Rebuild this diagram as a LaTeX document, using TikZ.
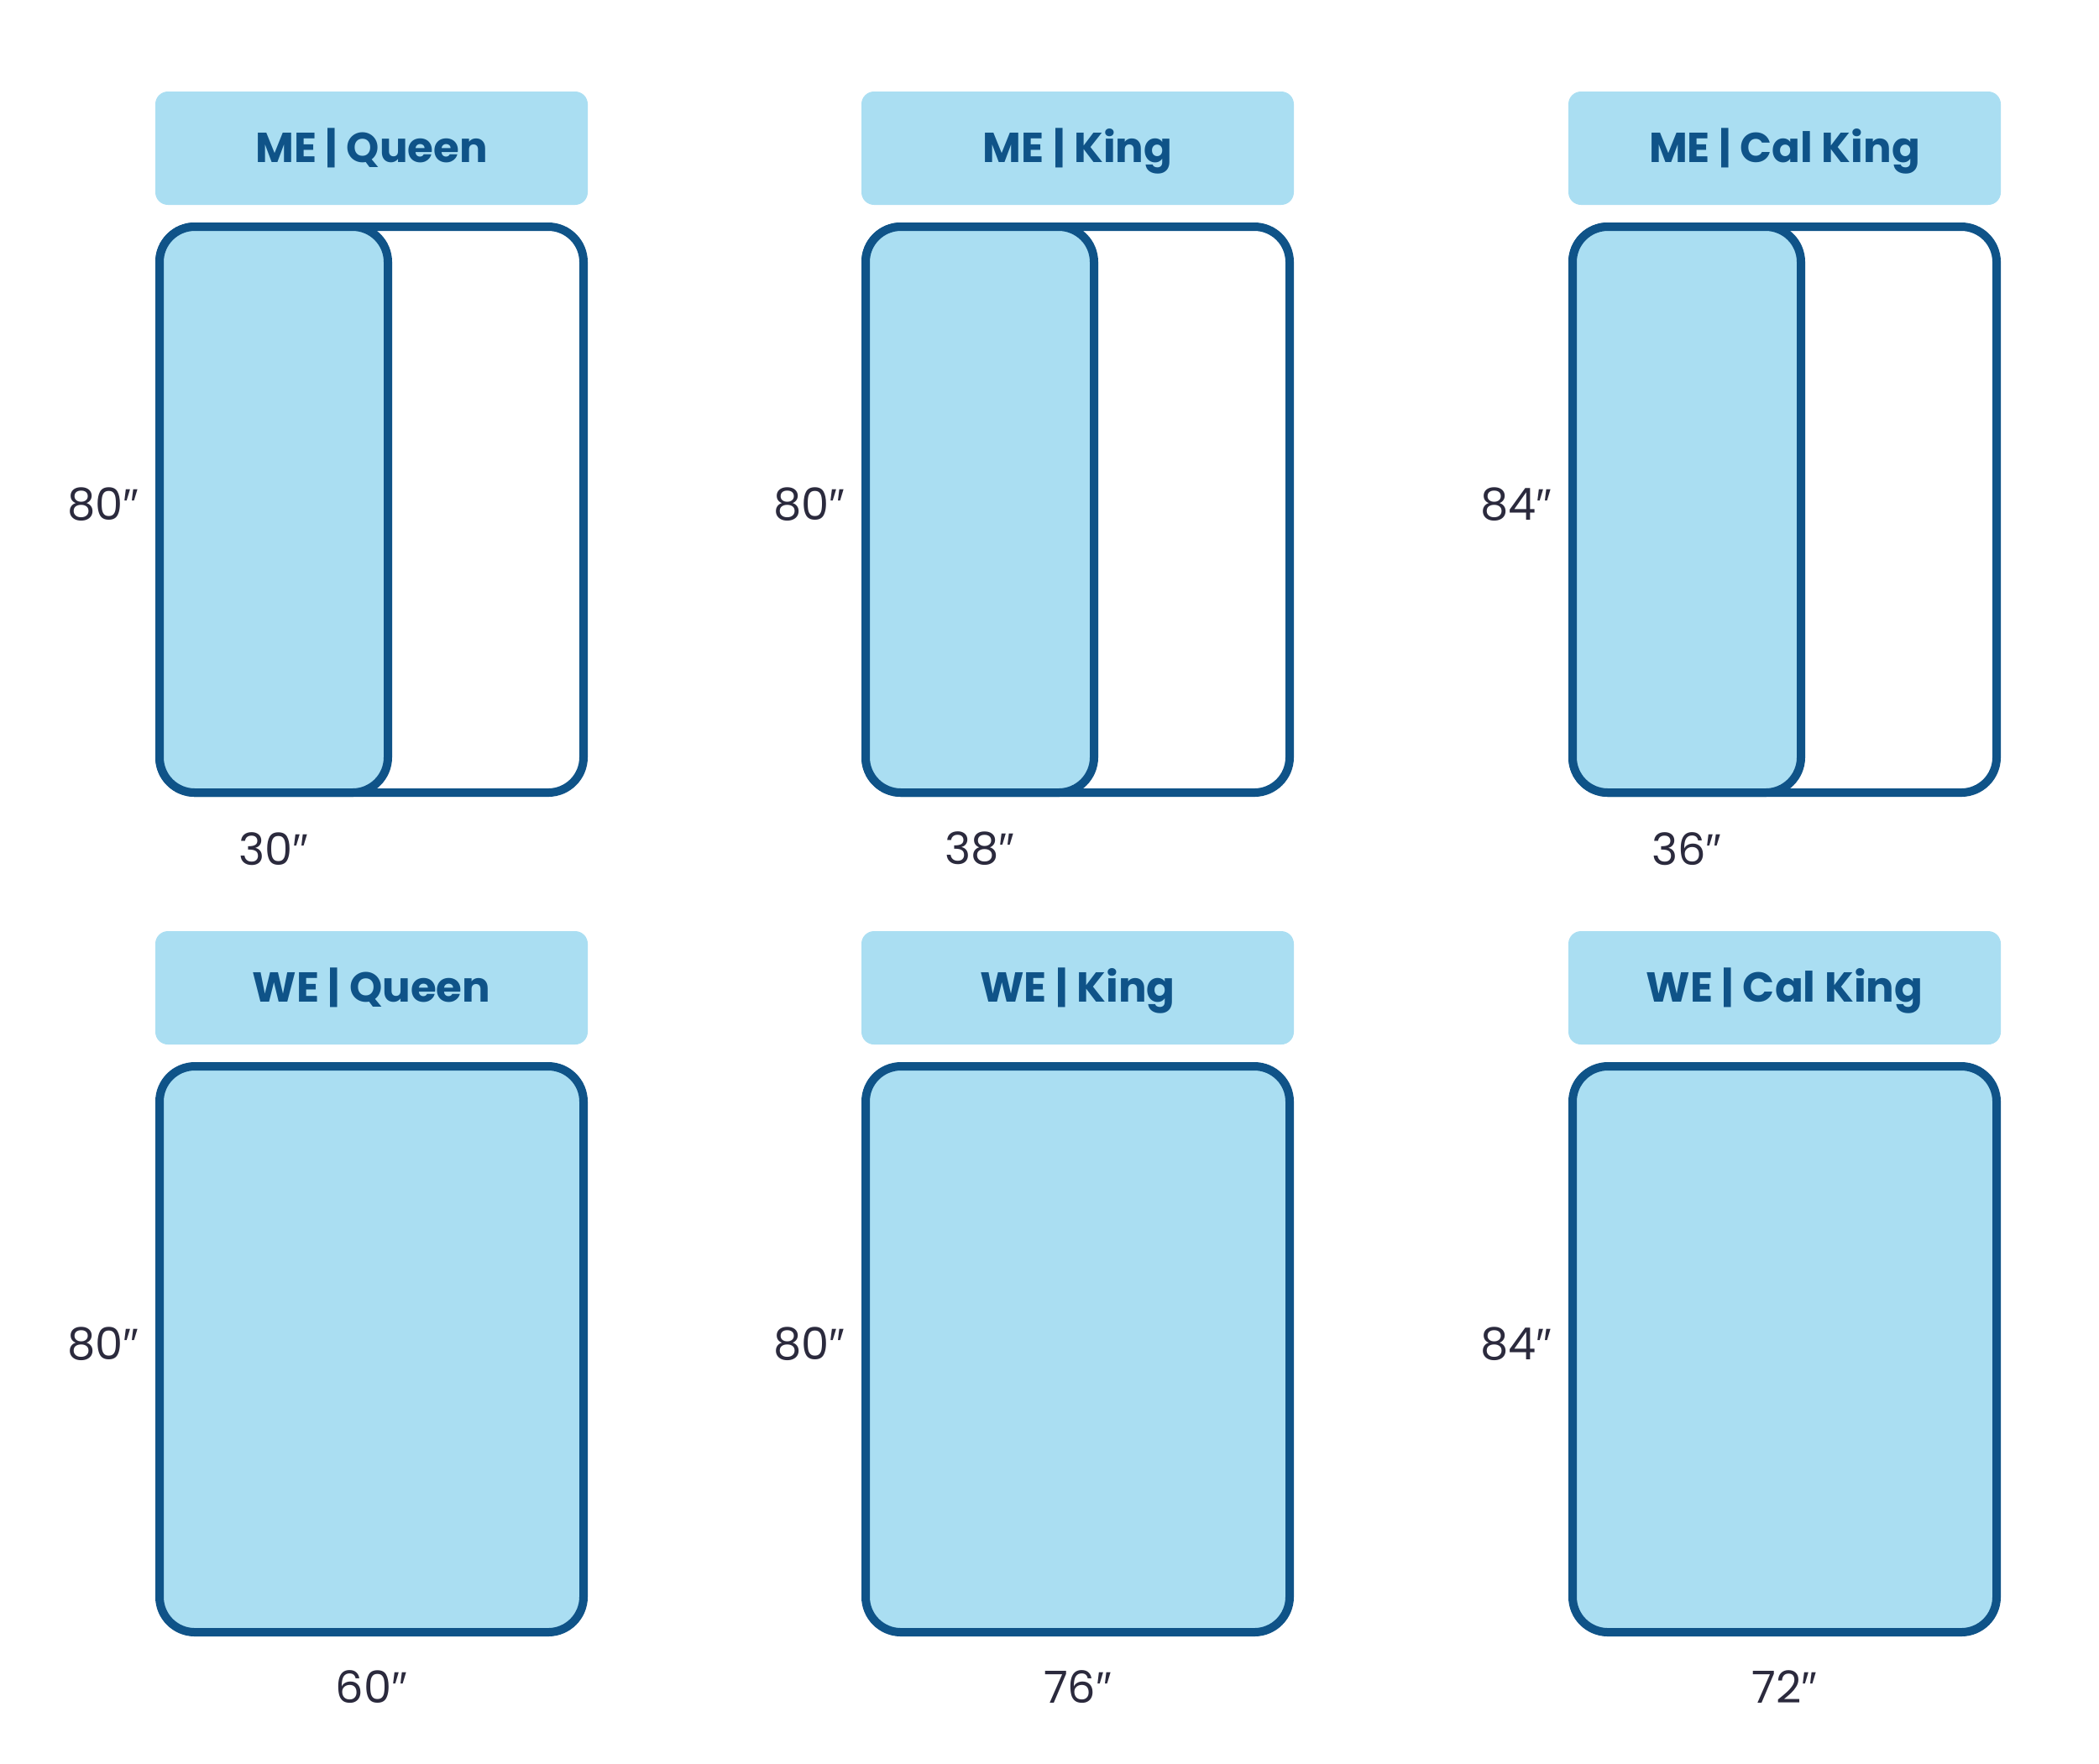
\documentclass[tikz,border=0pt]{standalone}
\usepackage{fontspec}
\setmainfont{Poppins}
\newfontfamily\primefont{Liberation Sans}
\usepackage{tikz}
\usetikzlibrary{positioning}
\definecolor{bedblue}{HTML}{AADEF2}
\definecolor{bededge}{HTML}{0F5388}
\definecolor{sizegray}{HTML}{2B2A3D}
\tikzset{bedline/.style={draw=bededge, line width=0.1cm, rounded corners=0.42cm},
	headbox/.style={fill=bedblue, rounded corners=0.15cm, minimum width=5.15cm, minimum height=1.35cm,
		inner sep=0pt, text height=1.05em, text depth=0.11em, text=bededge, font=\fontsize{14.2}{17}\selectfont\bfseries},
	sizelabel/.style={inner sep=0pt, text=sizegray, font=\fontsize{15}{18}\selectfont}}
\newcommand{\inch}{{\primefont ″}}
\newcommand{\halfbed}{\draw[bedline, fill=white] (0.05,-1.61) rectangle (5.10,-8.35);
					\draw[bedline, fill=bedblue] (0.05,-1.61) rectangle (2.77,-8.35);}
\newcommand{\fullbed}{\draw[bedline, fill=bedblue] (0.05,-1.61) rectangle (5.10,-8.35);}

\begin{document}
\begin{tikzpicture}
					\fill[white] (0,0) rectangle (25,-21);
					\useasboundingbox (0,0) rectangle (25,-21);

					% split halves
					\begin{scope}[xshift = 1.85cm, yshift = -1.09cm]
						\halfbed
						\node[headbox] (mequeen) at (2.575,-0.675) {ME | Queen};
						\node[sizelabel, anchor = east] (mequeenlen) at (-0.19,-4.92) {80\inch};
						\node[sizelabel] (mequeenwid) at (1.41,-9.02) {30\inch};
					\end{scope}

					\begin{scope}[xshift = 10.26cm, yshift = -1.09cm]
						\halfbed
						\node[headbox] (meking) at (2.575,-0.675) {ME | King};
						\node[sizelabel, anchor = east] (mekinglen) at (-0.19,-4.92) {80\inch};
						\node[sizelabel] (mekingwid) at (1.41,-9.02) {38\inch};
					\end{scope}

					\begin{scope}[xshift = 18.68cm, yshift = -1.09cm]
						\halfbed
						\node[headbox] (mecal) at (2.575,-0.675) {ME | Cal King};
						\node[sizelabel, anchor = east] (mecallen) at (-0.19,-4.92) {84\inch};
						\node[sizelabel] (mecalwid) at (1.41,-9.02) {36\inch};
					\end{scope}

					% whole beds
					\begin{scope}[xshift = 1.85cm, yshift = -11.09cm]
						\fullbed
						\node[headbox] (wequeen) at (2.575,-0.675) {WE | Queen};
						\node[sizelabel, anchor = east] (wequeenlen) at (-0.19,-4.92) {80\inch};
						\node[sizelabel] (wequeenwid) at (2.575,-9.00) {60\inch};
					\end{scope}

					\begin{scope}[xshift = 10.26cm, yshift = -11.09cm]
						\fullbed
						\node[headbox] (weking) at (2.575,-0.675) {WE | King};
						\node[sizelabel, anchor = east] (wekinglen) at (-0.19,-4.92) {80\inch};
						\node[sizelabel] (wekingwid) at (2.575,-9.00) {76\inch};
					\end{scope}

					\begin{scope}[xshift = 18.68cm, yshift = -11.09cm]
						\fullbed
						\node[headbox] (wecal) at (2.575,-0.675) {WE | Cal King};
						\node[sizelabel, anchor = east] (wecallen) at (-0.19,-4.92) {84\inch};
						\node[sizelabel] (wecalwid) at (2.575,-9.00) {72\inch};
					\end{scope}

				\end{tikzpicture}
\end{document}
